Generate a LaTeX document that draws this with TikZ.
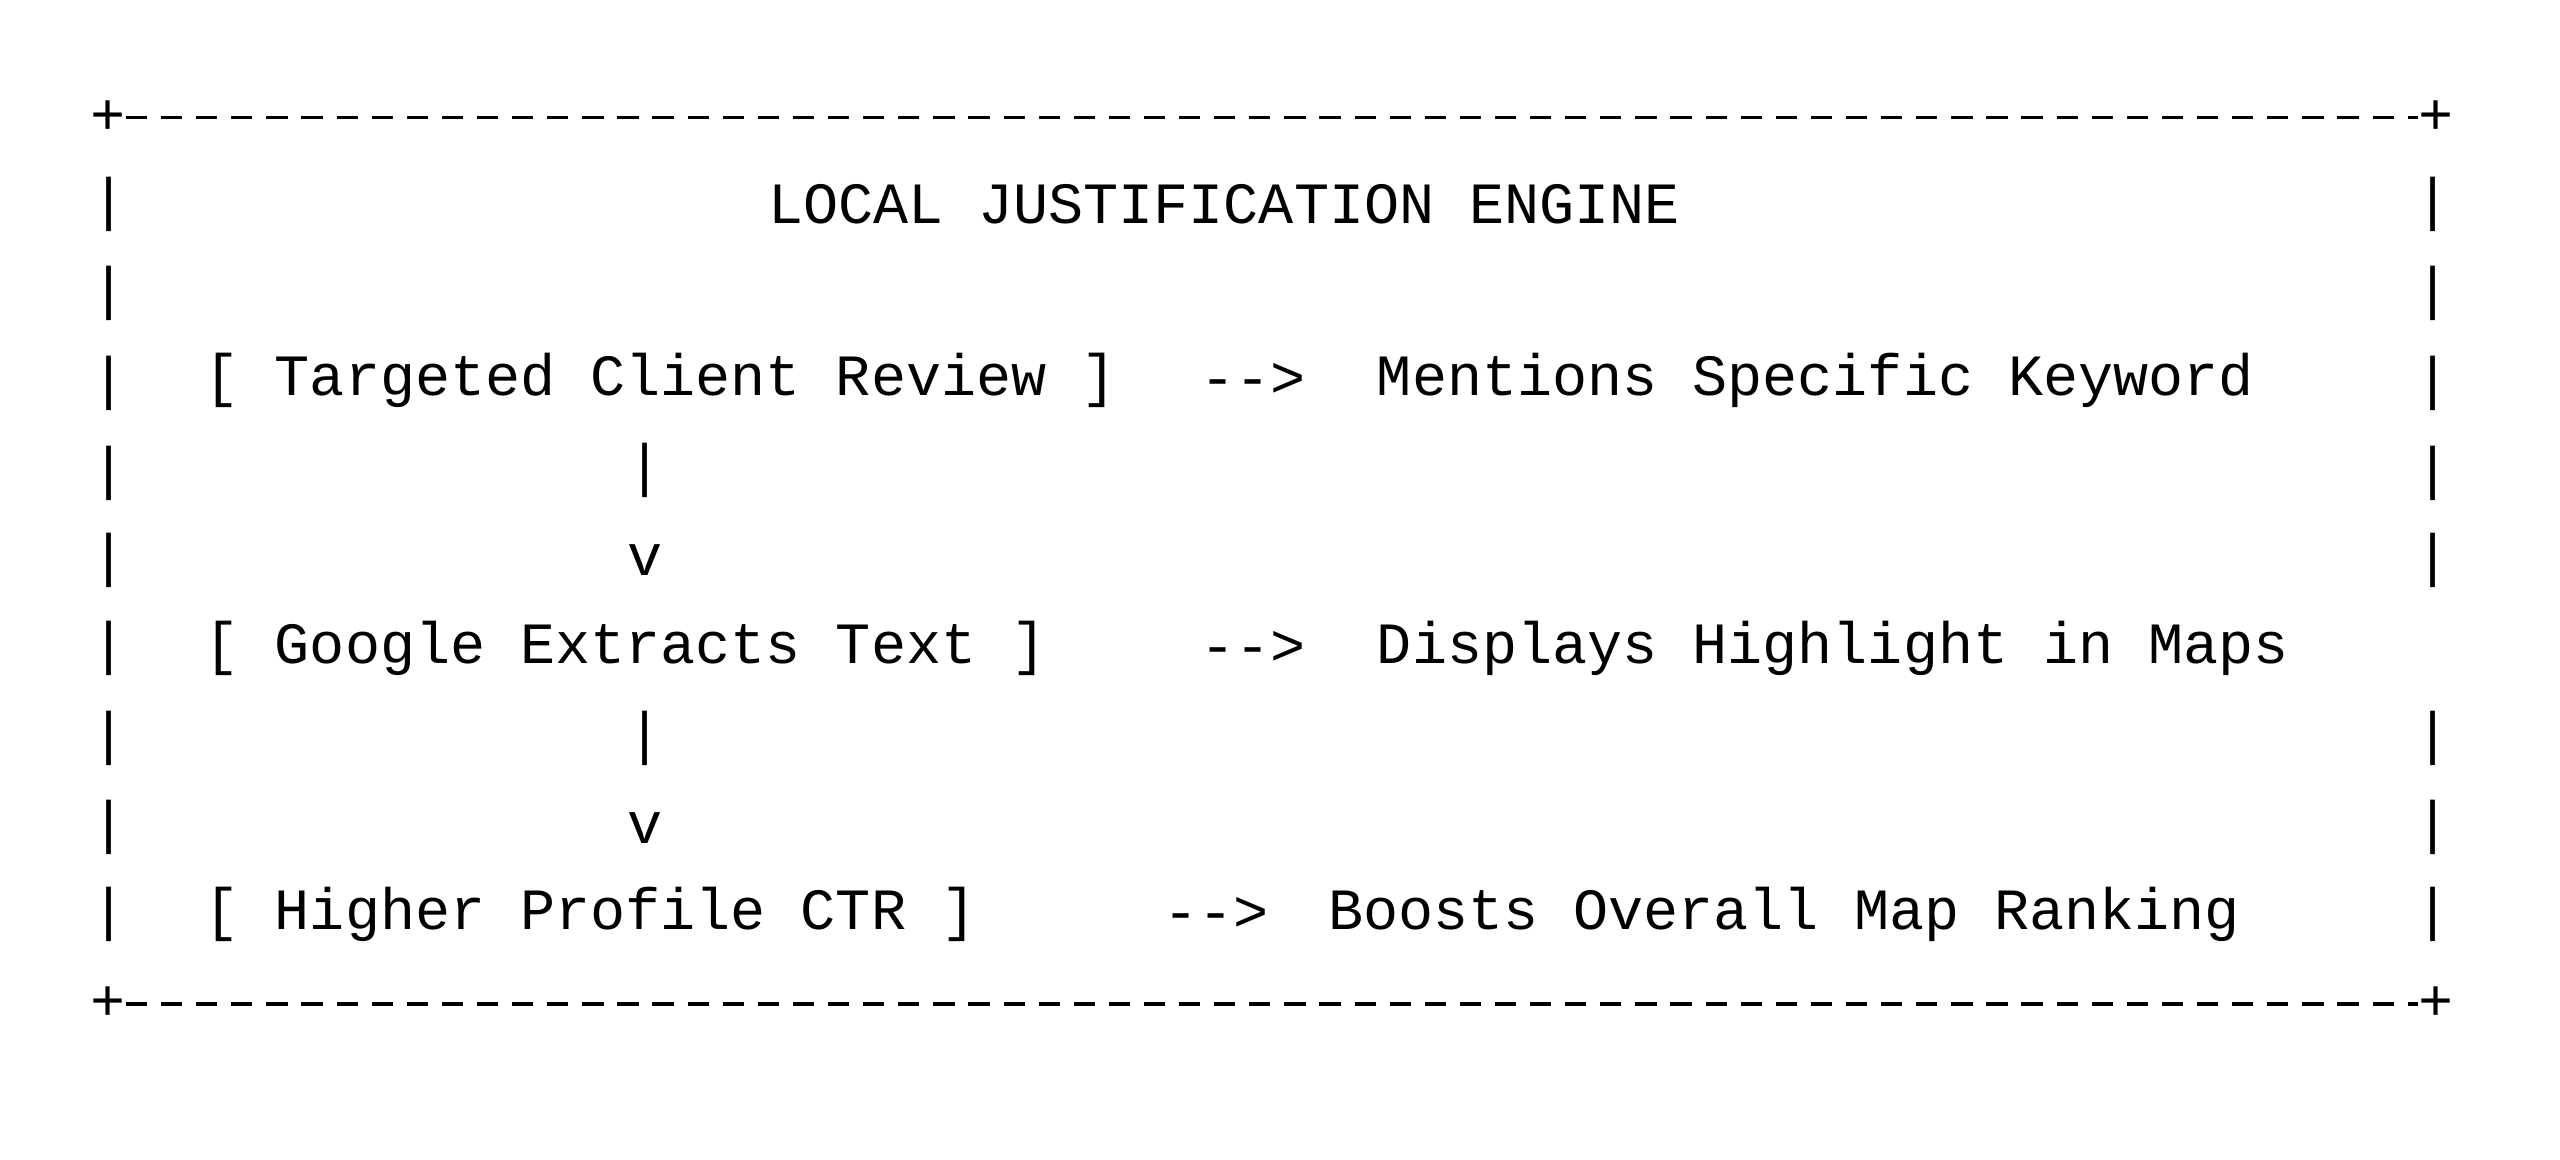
\documentclass[tikz,border=0pt]{standalone}
\usepackage{fontspec}
\setmonofont{Liberation Mono}
\begin{document}
\begin{tikzpicture}[x=0.5pt,y=-0.5pt,
  tx/.style={font=\ttfamily\fontsize{17.9}{20}\selectfont,inner sep=0pt,anchor=west},
  tc/.style={font=\ttfamily\fontsize{17.9}{20}\selectfont,inner sep=0pt},
  brd/.style={line width=1.1pt,dash pattern=on 6.5pt off 4.25pt}]
\useasboundingbox (0,0) rectangle (1568,710);
% border
\node[tc] (tl) at (66,72) {+};
\node[tc] (tr) at (1492,72) {+};
\node[tc] (bl) at (66,615) {+};
\node[tc] (br) at (1492,615) {+};
\draw[brd] (tl.east) -- (tr.west);
\draw[brd] (bl.east) -- (br.west);
\foreach \y/\n in {125/a,180/b,235/c,290/d,343/e,397/f,452/g,507/h,560/i}{
  \node[tc] (L\n) at (67,\y) {|};}
\foreach \y/\n in {125/a,180/b,235/c,290/d,343/e,452/g,507/h,560/i}{
  \node[tc] (R\n) at (1490,\y) {|};}
\node[tx] (title) at (470,125) {LOCAL JUSTIFICATION ENGINE};
\node[tx] (n1) at (125,233) {[ Targeted Client Review ]};
\node[tx] (a1) at (735,233) {-{}->};
\node[tx] (r1) at (843,233) {Mentions Specific Keyword};
\node[tc] (p1) at (395,288) {|};
\node[tc] (v1) at (395,343) {v};
\node[tx] (n2) at (125,397) {[ Google Extracts Text ]};
\node[tx] (a2) at (735,397) {-{}->};
\node[tx] (r2) at (843,397) {Displays Highlight in Maps};
\node[tc] (p2) at (395,452) {|};
\node[tc] (v2) at (395,507) {v};
\node[tx] (n3) at (125,560) {[ Higher Profile CTR ]};
\node[tx] (a3) at (712,560) {-{}->};
\node[tx] (r3) at (813,560) {Boosts Overall Map Ranking};
\end{tikzpicture}
\end{document}
